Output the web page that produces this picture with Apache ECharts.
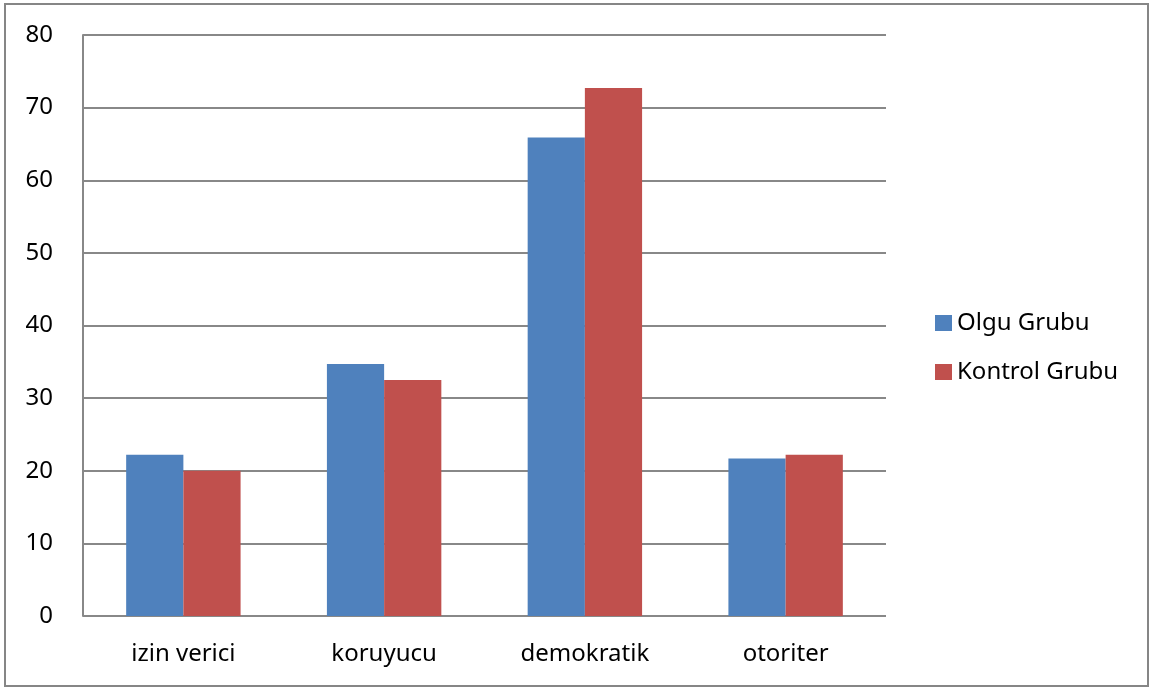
<!DOCTYPE html>
<html>
<head>
<meta charset="utf-8">
<script src="https://cdn.jsdelivr.net/npm/echarts@6/dist/echarts.min.js"></script>
<style>
  html, body { margin: 0; padding: 0; background: #fff; }
  #chart { width: 1154px; height: 688px; }
</style>
</head>
<body>
<div id="chart"></div>
<script>
// categories and values
const categories = ["izin verici", "koruyucu", "demokratik", "otoriter"];
const olguGrubu = [22.2, 34.7, 65.9, 21.7];
const kontrolGrubu = [20.0, 32.5, 72.7, 22.2];
const seriesNames = ["Olgu Grubu", "Kontrol Grubu"];

const font = "Noto Sans";
const chart = echarts.init(document.getElementById("chart"));

chart.setOption({
  animation: false,
  textStyle: { fontFamily: font },
  graphic: [{
    type: "rect",
    shape: { x: 5, y: 4, width: 1143, height: 682 },
    style: { fill: null, stroke: "#868686", lineWidth: 2 },
    silent: true
  }],
  grid: { left: 83, top: 35, right: 268, bottom: 72 },
  legend: {
    orient: "vertical",
    left: 930,
    top: 306,
    itemWidth: 17,
    itemHeight: 16,
    itemGap: 25,
    icon: "rect",
    textStyle: { fontSize: 24, color: "#000", fontFamily: font },
    data: seriesNames
  },
  xAxis: {
    type: "category",
    data: categories,
    axisLine: { show: false },
    axisTick: { show: false },
    axisLabel: { fontSize: 24, color: "#000", margin: 26, fontFamily: font }
  },
  yAxis: {
    type: "value",
    min: 0,
    max: 80,
    interval: 10,
    axisLine: { show: true, lineStyle: { color: "#888", width: 2 } },
    axisTick: { show: false },
    splitLine: { lineStyle: { color: "#888", width: 2 } },
    axisLabel: { fontSize: 24, color: "#000", margin: 30, fontFamily: font }
  },
  series: [
    {
      name: seriesNames[0],
      type: "bar",
      data: olguGrubu,
      barGap: "0%",
      barCategoryGap: "43%",
      itemStyle: { color: "#4F81BD" }
    },
    {
      name: seriesNames[1],
      type: "bar",
      data: kontrolGrubu,
      barGap: "0%",
      barCategoryGap: "43%",
      itemStyle: { color: "#C0504D" }
    }
  ]
});
</script>
</body>
</html>
